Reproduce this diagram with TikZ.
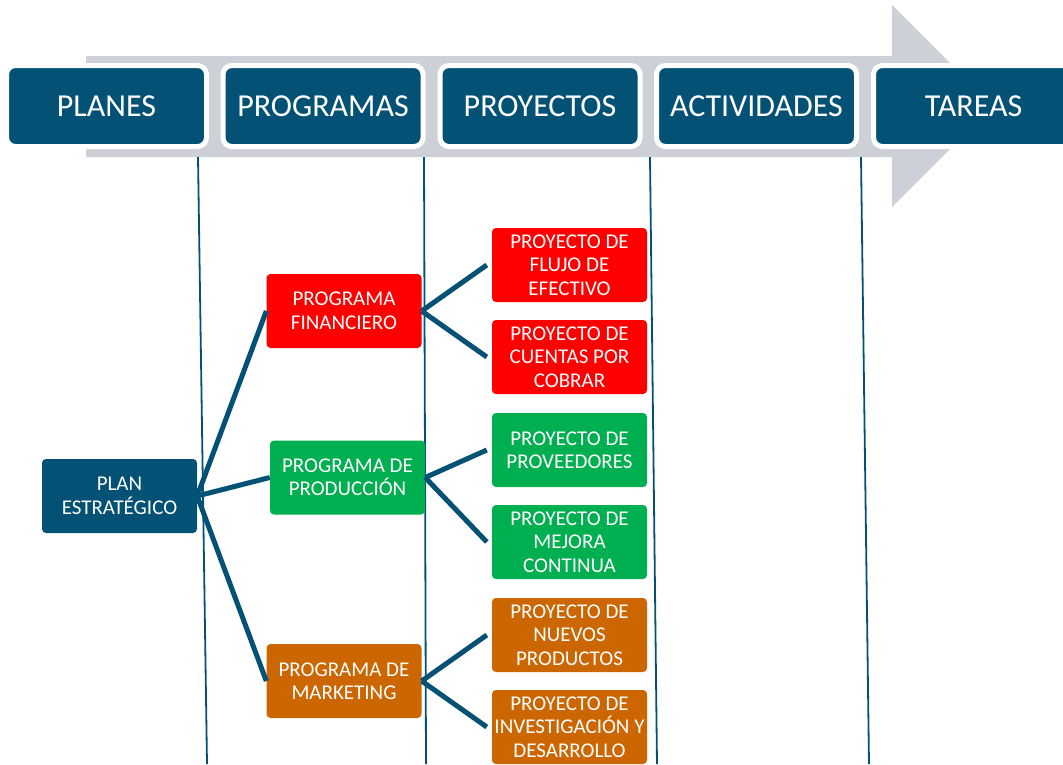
\documentclass[tikz,border=0pt]{standalone}
\usepackage{fontspec}
\setmainfont{Carlito}
\definecolor{azul}{RGB}{4,81,118}
\definecolor{gris}{RGB}{205,209,215}
\definecolor{rojo}{RGB}{255,0,0}
\definecolor{verde}{RGB}{0,176,80}
\definecolor{naranja}{RGB}{204,102,0}

\begin{document}
\begin{tikzpicture}[x=1pt,y=-1pt,
  fase/.style={rounded corners=9pt,fill=azul,draw=white,line width=5pt,minimum width=200pt,minimum height=81pt,text=white,font=\fontsize{32}{38}\selectfont},
  caja/.style={rounded corners=4pt,minimum width=155pt,minimum height=74pt,inner sep=1pt,text=white,align=center,font=\fontsize{21}{23.5}\selectfont},
  rama/.style={draw=azul,line width=5pt},
  guia/.style={draw=azul,line width=1.8pt}]
  \clip (0,0) rectangle (1063,764);

  %FLECHA
  \fill[gris] (86,56) -- (892,56) -- (892,5) -- (993,106) -- (892,207) -- (892,157) -- (86,157) -- cycle;

  %LINEAS VERTICALES
  \coordinate (g1a) at (198,157); \coordinate (g1b) at (207,764);
  \coordinate (g2a) at (424,157); \coordinate (g2b) at (426,764);
  \coordinate (g3a) at (650,157); \coordinate (g3b) at (657,764);
  \coordinate (g4a) at (861,157); \coordinate (g4b) at (869,764);
  \draw[guia] (g1a) -- (g1b);
  \draw[guia] (g2a) -- (g2b);
  \draw[guia] (g3a) -- (g3b);
  \draw[guia] (g4a) -- (g4b);

  %ENCABEZADOS
  \node[fase] (planes) at (106.5,106) {PLANES};
  \node[fase] (programas) at (323,106) {PROGRAMAS};
  \node[fase] (proyectos) at (540,106) {PROYECTOS};
  \node[fase] (actividades) at (756.5,106) {ACTIVIDADES};
  \node[fase] (tareas) at (973.5,106) {TAREAS};

  %PLAN
  \node[caja,fill=azul] (plan) at (119.5,496) {PLAN\\ESTRATÉGICO};

  %PROGRAMAS
  \node[caja,fill=rojo] (fin) at (344,311) {PROGRAMA\\FINANCIERO};
  \node[caja,fill=verde] (prod) at (347.5,477.5) {PROGRAMA DE\\PRODUCCIÓN};
  \node[caja,fill=naranja] (mkt) at (344,681) {PROGRAMA DE\\MARKETING};

  %PROYECTOS
  \node[caja,fill=rojo] (flujo) at (569.5,265) {PROYECTO DE\\FLUJO DE\\EFECTIVO};
  \node[caja,fill=rojo] (cuentas) at (569.5,357) {PROYECTO DE\\CUENTAS POR\\COBRAR};
  \node[caja,fill=verde] (prov) at (569.5,450) {PROYECTO DE\\PROVEEDORES};
  \node[caja,fill=verde] (mejora) at (569.5,542) {PROYECTO DE\\MEJORA\\CONTINUA};
  \node[caja,fill=naranja] (nuevos) at (569.5,635) {PROYECTO DE\\NUEVOS\\PRODUCTOS};
  \node[caja,fill=naranja] (inv) at (569.5,727) {PROYECTO DE\\INVESTIGACIÓN Y\\DESARROLLO};

  %RAMAS
  \draw[rama] (plan.east) -- (fin.west);
  \draw[rama] (plan.east) -- (prod.west);
  \draw[rama] (plan.east) -- (mkt.west);
  \draw[rama] (fin.east) -- ([xshift=-5pt]flujo.west);
  \draw[rama] (fin.east) -- ([xshift=-5pt]cuentas.west);
  \draw[rama] (prod.east) -- ([xshift=-5pt]prov.west);
  \draw[rama] (prod.east) -- ([xshift=-5pt]mejora.west);
  \draw[rama] (mkt.east) -- ([xshift=-5pt]nuevos.west);
  \draw[rama] (mkt.east) -- ([xshift=-5pt]inv.west);
\end{tikzpicture}
\end{document}
